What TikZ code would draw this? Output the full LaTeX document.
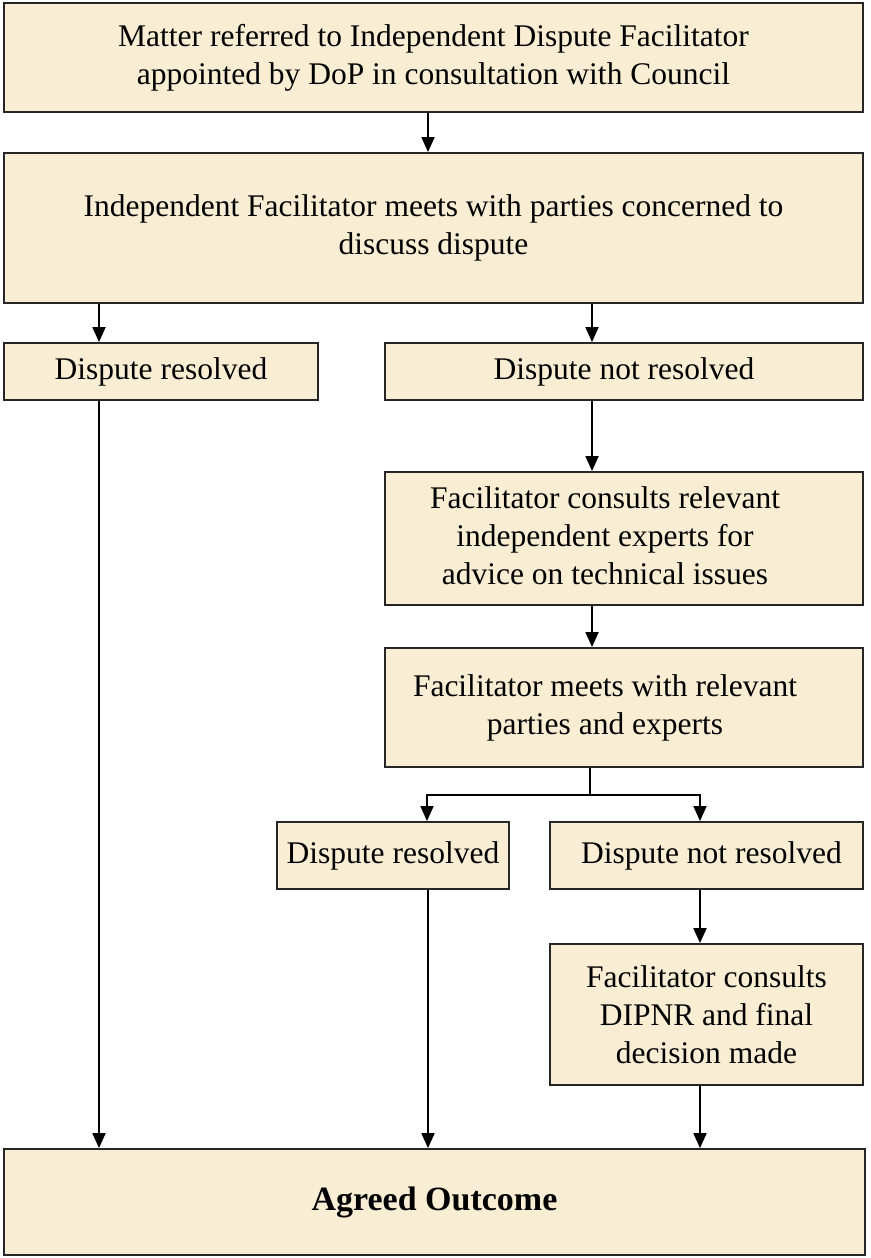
\documentclass[tikz,border=0pt]{standalone}
\usepackage{fontspec}
\setmainfont{Liberation Serif}
\usetikzlibrary{arrows.meta,positioning,calc}
\definecolor{parchment}{RGB}{249,238,212}

\begin{document}
\begin{tikzpicture}[x=1pt,y=-1pt,
    box/.style={draw=black!85,line width=1.8pt,fill=parchment,inner sep=0pt,
        font=\fontsize{31.5}{38}\selectfont},
    arr/.style={-{Triangle[width=13pt,length=15pt]},line width=1.8pt},
    link/.style={line width=1.4pt}]
    \useasboundingbox (0,0) rectangle (870,1258);

    % Referral and first meeting
    \node[box,align=center,minimum width=859pt,minimum height=109pt] (refer) at (433.5,57.5)
        {Matter referred to Independent Dispute Facilitator\\appointed by DoP in consultation with Council};
    \node[box,align=center,minimum width=859pt,minimum height=150pt] (meet) at (433.5,228)
        {Independent Facilitator meets with parties concerned to\\discuss dispute};

    % First outcome
    \node[box,minimum width=314pt,minimum height=57pt] (res1) at (161,371.5) {Dispute resolved};
    \node[box,minimum width=478pt,minimum height=57pt] (nres1) at (624,371.5) {Dispute not resolved};

    % Experts
    \node[box,minimum width=478pt,minimum height=133pt] (consult) at (624,538.5)
        {\begin{tabular}{@{}c@{}}Facilitator consults relevant\\independent experts for\\advice on technical issues\end{tabular}\kern38pt};
    \node[box,minimum width=478pt,minimum height=119pt] (meet2) at (624,707.5)
        {\begin{tabular}{@{}c@{}}Facilitator meets with relevant\\parties and experts\end{tabular}\kern38pt};

    % Second outcome
    \node[box,minimum width=232pt,minimum height=67pt] (res2) at (393,855.5) {Dispute resolved};
    \node[box,minimum width=313pt,minimum height=67pt] (nres2) at (706.5,855.5) {\hspace{10pt}Dispute not resolved};
    \node[box,align=center,minimum width=313pt,minimum height=141pt] (dipnr) at (706.5,1014.5)
        {Facilitator consults\\DIPNR and final\\decision made};

    % Final
    \node[box,minimum width=861pt,minimum height=106pt,font=\fontsize{34}{40}\selectfont\bfseries] (outcome) at (434.5,1202)
        {Agreed Outcome};

    % Connections
    \draw[arr] ([xshift=-5.5pt]refer.south) -- ([xshift=-5.5pt]meet.north);
    \draw[arr] ([xshift=-62pt]res1.north |- meet.south) -- ([xshift=-62pt]res1.north);
    \draw[arr] ([xshift=-32pt]nres1.north |- meet.south) -- ([xshift=-32pt]nres1.north);
    \draw[arr] ([xshift=-32pt]nres1.south) -- ([xshift=-32pt]consult.north);
    \draw[arr] ([xshift=-32pt]consult.south) -- ([xshift=-32pt]meet2.north);

    \coordinate (split) at (590,795);
    \draw[link] (meet2.south -| split) -- (split);
    \draw[arr,link] (split) -| ([xshift=34pt]res2.north);
    \draw[arr,link] (split) -| ([xshift=-6.5pt]nres2.north);
    \draw[arr] ([xshift=-6.5pt]nres2.south) -- ([xshift=-6.5pt]dipnr.north);

    \draw[arr] ([xshift=-62pt]res1.south) -- ([xshift=-62pt]res1.south |- outcome.north);
    \draw[arr] ([xshift=35pt]res2.south) -- ([xshift=35pt]res2.south |- outcome.north);
    \draw[arr] ([xshift=-6.5pt]dipnr.south) -- ([xshift=-6.5pt]dipnr.south |- outcome.north);
\end{tikzpicture}
\end{document}
